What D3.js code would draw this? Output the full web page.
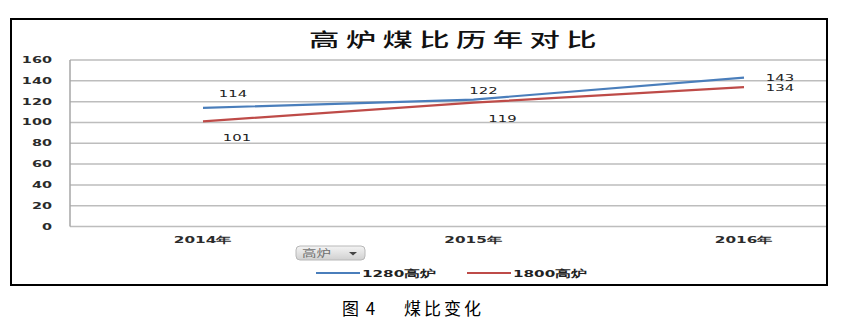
<!DOCTYPE html>
<html>
<head>
<meta charset="utf-8">
<script src="https://cdn.jsdelivr.net/npm/d3@7"></script>
<style>
  body { margin: 0; background: #fff; }
  svg { display: block; }
</style>
</head>
<body>
<svg id="chart" width="841" height="328"></svg>
<script>
// Coal injection ratio per furnace by year
const years = ["2014年", "2015年", "2016年"];
const furnace1280 = [114, 122, 143];
const furnace1800 = [101, 119, 134];
const seriesNames = ["1280高炉", "1800高炉"];
const yTicks = [0, 20, 40, 60, 80, 100, 120, 140, 160];

const svg = d3.select("#chart");
const numFont = "'DejaVu Sans', Verdana, sans-serif";
const cjkFont = "'Noto Sans CJK SC', sans-serif";
const SX = 1.7; // chart text is drawn wide and low

// text placed at (x, y) and widened horizontally by sx
function wideText(parent, x, y, str, o = {}) {
  const g = parent.append("g")
    .attr("transform", `translate(${x},${y}) scale(${o.sx || SX},1)`);
  return g.append("text")
    .attr("text-anchor", o.anchor || "start")
    .attr("font-family", o.font || numFont)
    .attr("font-weight", o.weight || "normal")
    .attr("font-size", o.size || 8.5)
    .attr("letter-spacing", o.spacing || 0)
    .attr("fill", o.fill || "#2b2b2b")
    .text(str);
}

// outer frame
svg.append("rect")
  .attr("x", 11).attr("y", 19).attr("width", 816).attr("height", 266)
  .attr("fill", "#fff").attr("stroke", "#000").attr("stroke-width", 2);

const x = d3.scalePoint().domain(years).range([203, 744]);
const y = d3.scaleLinear().domain([0, 160]).range([226.5, 60]);

// horizontal gridlines
svg.append("g").selectAll("line").data(yTicks).join("line")
  .attr("x1", 70).attr("x2", 826)
  .attr("y1", d => y(d)).attr("y2", d => y(d))
  .attr("stroke", "#bdbdbd").attr("stroke-width", 1.5);

// left axis line
svg.append("line")
  .attr("x1", 70).attr("x2", 70).attr("y1", y(160)).attr("y2", y(0))
  .attr("stroke", "#a6a6a6").attr("stroke-width", 1.5);

// y tick labels
const yAxisG = svg.append("g");
yTicks.forEach(t => wideText(yAxisG, 52, y(t) + 3, t, { anchor: "end", weight: "bold" }));

// x category labels
const xAxisG = svg.append("g");
years.forEach(yr => wideText(xAxisG, x(yr), 243, yr, { anchor: "middle", weight: "bold", size: 9 }));

// title
wideText(svg, 456, 47, "高炉煤比历年对比", {
  anchor: "middle", font: cjkFont, weight: 500, size: 19, sx: 1.6, spacing: 4, fill: "#111"
});

const line = d3.line().x((d, i) => x(years[i])).y(d => y(d));
const colors = ["#4a7ebb", "#be4b48"];
[furnace1280, furnace1800].forEach((s, k) => {
  svg.append("path").datum(s)
    .attr("d", line)
    .attr("fill", "none")
    .attr("stroke", colors[k]).attr("stroke-width", 2.2);
});

// data labels, offset from their points
const labelOffsets = [
  [[30, -11], [10, -6], [36, 3]],
  [[34, 20], [29, 19], [36, 3.5]]
];
const labelG = svg.append("g");
[furnace1280, furnace1800].forEach((s, k) => {
  s.forEach((v, i) => {
    wideText(labelG, x(years[i]) + labelOffsets[k][i][0], y(v) + labelOffsets[k][i][1], v,
      { anchor: "middle", size: 9, sx: 1.65, fill: "#222" });
  });
});

// field button
const btn = svg.append("g").attr("transform", "translate(296,246)");
const grad = svg.append("defs").append("linearGradient")
  .attr("id", "btnGrad").attr("x1", 0).attr("y1", 0).attr("x2", 0).attr("y2", 1);
grad.append("stop").attr("offset", "0%").attr("stop-color", "#f4f4f4");
grad.append("stop").attr("offset", "100%").attr("stop-color", "#d0d0d0");
btn.append("rect").attr("width", 69).attr("height", 14).attr("rx", 4)
  .attr("fill", "url(#btnGrad)").attr("stroke", "#b8b8b8");
wideText(btn, 6, 11, "高炉", { font: cjkFont, size: 10, sx: 1.45, fill: "#707070" });
btn.append("path").attr("d", "M53,6 L61,6 L57,9.5 Z").attr("fill", "#444");

// legend
const legendX = [316, 467];
const legendG = svg.append("g");
seriesNames.forEach((name, k) => {
  legendG.append("line")
    .attr("x1", legendX[k]).attr("x2", legendX[k] + 44)
    .attr("y1", 273).attr("y2", 273)
    .attr("stroke", colors[k]).attr("stroke-width", 2.2);
  wideText(legendG, legendX[k] + 46, 277, name, { size: 9.5, sx: 1.6, weight: "bold", fill: "#222" });
});

// figure caption
const caption = svg.append("g")
  .attr("font-family", cjkFont).attr("font-size", 17).attr("fill", "#000");
caption.append("text").attr("x", 342).attr("y", 315).attr("letter-spacing", 1.5).text("图 4");
caption.append("text").attr("x", 404).attr("y", 315).attr("letter-spacing", 3).text("煤比变化");
</script>
</body>
</html>
